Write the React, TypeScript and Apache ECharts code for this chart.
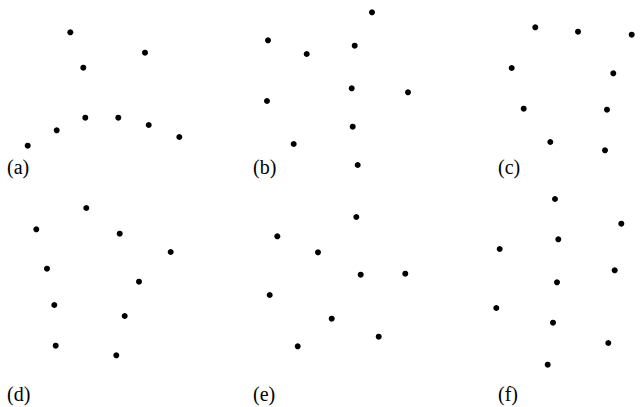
import React, { useEffect, useRef } from "react";
import * as echarts from "echarts";

// Panel labels
const panelLabels = ["(a)", "(b)", "(c)", "(d)", "(e)", "(f)"];

// Point positions within each panel (local units, y downward)
const panelA: [number, number][] = [
  [70.3, 32.3], [145, 52.7], [83.3, 67.7], [85.3, 117.7], [118.3, 117.7],
  [148.7, 125], [179.3, 137], [56.7, 130.3], [27.7, 145.7],
];
const panelB: [number, number][] = [
  [159, 12.3], [55, 40.3], [141.7, 45.7], [93.7, 54], [138.7, 88.3],
  [195, 92.3], [54, 101], [139.7, 126.7], [80.7, 144], [144.7, 165],
];
const panelC: [number, number][] = [
  [109.3, 27.3], [152, 31.7], [205.7, 34.7], [85.7, 68], [187.3, 73.3],
  [97.7, 108.7], [181, 109.7], [124.3, 142], [179, 150.3],
];
const panelD: [number, number][] = [
  [86.3, 23], [36.3, 44.3], [119.7, 48.7], [170.7, 67], [47, 83.7],
  [139, 96.7], [54.3, 120], [124.7, 131], [55.7, 160.7], [116.3, 170.3],
];
const panelE: [number, number][] = [
  [143.3, 32], [64.3, 51.3], [105, 67.3], [147.7, 89.7], [192.3, 88.7],
  [56.7, 110], [118.7, 133.7], [165.7, 151.7], [84.7, 161.3],
];
const panelF: [number, number][] = [
  [129, 14], [195.3, 38.7], [132.3, 54.3], [73.7, 64], [188.7, 85.3],
  [131, 97.3], [70.3, 123], [127, 137.7], [182.3, 158], [121.7, 179.7],
];

const panels = [panelA, panelB, panelC, panelD, panelE, panelF];

export default function App() {
  const ref = useRef<HTMLDivElement>(null);
  useEffect(() => {
    if (!ref.current) return;
    const chart = echarts.init(ref.current, undefined, { renderer: "svg" });
    const colLeft = [0, 213, 426];
    const colW = [213, 213, 214];
    const rowTop = [0, 185];
    const rowH = [185, 222];
    const grids: any[] = [];
    const xAxes: any[] = [];
    const yAxes: any[] = [];
    const series: any[] = [];
    const graphics: any[] = [];
    const labelLeft = [7, 253, 498];
    const labelTop = [157, 384];
    panels.forEach((pts, i) => {
      const r = Math.floor(i / 3);
      const c = i % 3;
      grids.push({
        left: colLeft[c],
        top: rowTop[r],
        width: colW[c],
        height: rowH[r],
        containLabel: false,
      });
      xAxes.push({
        type: "value",
        gridIndex: i,
        min: 0,
        max: colW[c],
        show: false,
      });
      yAxes.push({
        type: "value",
        gridIndex: i,
        min: 0,
        max: rowH[r],
        inverse: true,
        show: false,
      });
      series.push({
        type: "scatter",
        xAxisIndex: i,
        yAxisIndex: i,
        data: pts,
        symbol: "circle",
        symbolSize: 6,
        itemStyle: { color: "#000", opacity: 1 },
        silent: true,
      });
      graphics.push({
        type: "text",
        left: labelLeft[c],
        top: labelTop[r],
        style: {
          text: panelLabels[i],
          fontFamily: "'Liberation Serif', 'Times New Roman', serif",
          fontSize: 20,
          fill: "#000",
        },
      });
    });
    chart.setOption({
      animation: false,
      backgroundColor: "#fff",
      grid: grids,
      xAxis: xAxes,
      yAxis: yAxes,
      series,
      graphic: graphics,
    });
    return () => chart.dispose();
  }, []);
  return (
    <div
      ref={ref}
      style={{ position: "fixed", left: 0, top: 0, width: 640, height: 407 }}
    />
  );
}
